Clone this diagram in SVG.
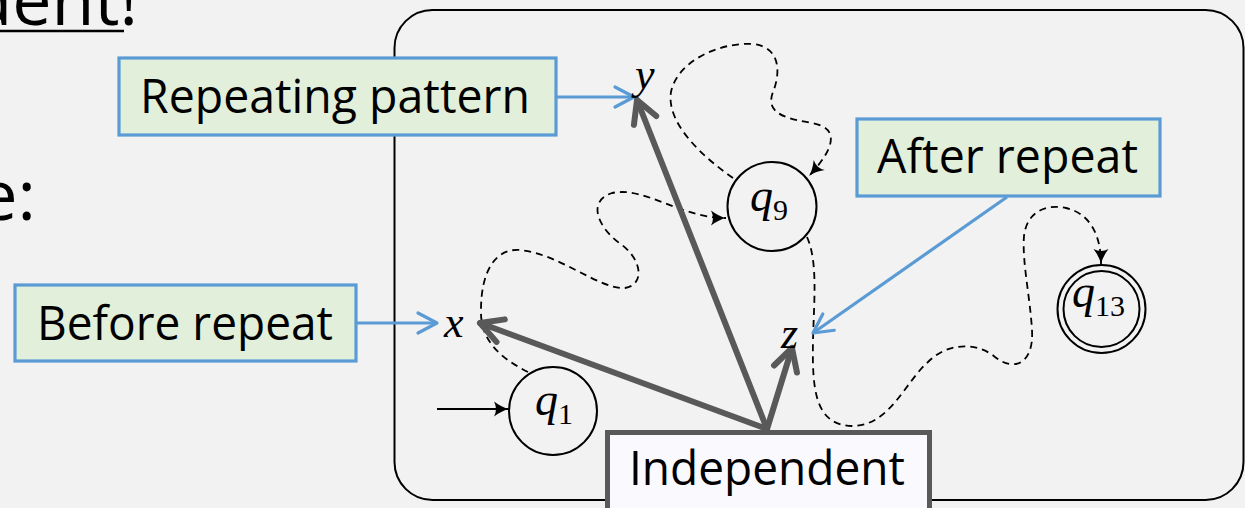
<svg xmlns="http://www.w3.org/2000/svg" width="1245" height="508" viewBox="0 0 1245 508">
  <defs>
    <style>
      .label { font-family: "Open Sans", "Noto Sans", sans-serif; font-size: 47px; fill: #000; }
      .big { font-family: "Open Sans", "Noto Sans", sans-serif; font-size: 70px; fill: #000; }
      .math { font-family: "Liberation Serif", "DejaVu Serif", serif; font-style: italic; fill: #000; }
      .sub { font-style: normal; }
      .note { fill: #e2efda; stroke: #5b9bd5; stroke-width: 3.2; }
      .pointer { fill: none; stroke: #5b9bd5; stroke-width: 3.2; }
      .thick { fill: none; stroke: #595959; stroke-width: 6; stroke-linecap: round; }
      .run { fill: none; stroke: #000; stroke-width: 1.8; stroke-dasharray: 7 5; }
      .state { fill: #f2f2f2; stroke: #000; stroke-width: 2; }
    </style>
    <marker id="blueHead" markerUnits="userSpaceOnUse" markerWidth="30" markerHeight="30" viewBox="-26 -15 30 30" refX="0" refY="0" orient="auto">
      <path d="M -19,-10 L 0,0 L -19,10" fill="none" stroke="#5b9bd5" stroke-width="3.2" stroke-linecap="round" stroke-linejoin="round"/>
    </marker>
    <marker id="grayHead" markerUnits="userSpaceOnUse" markerWidth="40" markerHeight="40" viewBox="-32 -20 40 40" refX="0" refY="0" orient="auto">
      <path d="M -22,-12 L 0,0 L -22,12" fill="none" stroke="#595959" stroke-width="6" stroke-linecap="round" stroke-linejoin="round"/>
    </marker>
    <marker id="smallHead" markerUnits="userSpaceOnUse" markerWidth="20" markerHeight="20" viewBox="-17 -10 20 20" refX="0" refY="0" orient="auto">
      <path d="M -15,-7.5 Q -7,-1.5 0,0 Q -7,1.5 -15,7.5 Q -11,0 -15,-7.5 Z" fill="#000"/>
    </marker>
  </defs>

  <!-- page background -->
  <rect x="0" y="0" width="1245" height="508" fill="#f2f2f2"/>

  <!-- slide text running past the left margin -->
  <g id="slide-text">
    <text class="big" x="138" y="25" text-anchor="end">dent!</text>
    <line x1="0" y1="31" x2="124" y2="31" stroke="#000" stroke-width="2.6"/>
    <text class="big" x="36" y="220" text-anchor="end">e:</text>
  </g>

  <!-- automaton panel -->
  <rect id="panel" x="394.5" y="10" width="849" height="490" rx="38" ry="38" fill="#f2f2f2" stroke="#000" stroke-width="2"/>

  <!-- connectors -->
  <g id="connectors">
    <!-- start arrow -->
    <line x1="437" y1="409" x2="509" y2="409" stroke="#000" stroke-width="1.8" marker-end="url(#smallHead)"/>
    <!-- dashed runs -->
    <path class="run" d="M 528,372 C 500,358 480,340 481,310 C 481,272 495,248 520,250 C 560,254 600,290 625,288 C 645,285 642,260 622,245 C 600,230 585,202 612,193 C 645,186 680,218 726,218" marker-end="url(#smallHead)"/>
    <path class="run" d="M 733,178 C 700,155 666,122 671,92 C 677,62 718,42 753,44 C 782,47 780,75 773,92 C 764,115 790,119 812,123 C 840,128 835,148 809,176" marker-end="url(#smallHead)"/>
    <path class="run" d="M 807,237 C 818,262 814,300 813,340 C 812,390 815,425 852,426 C 890,426 905,382 928,362 C 950,340 980,344 995,357 C 1014,372 1034,364 1032,330 C 1030,296 1022,262 1024,236 C 1027,210 1048,204 1066,208 C 1092,214 1101,238 1101,264" marker-end="url(#smallHead)"/>
    <!-- thick arrows from the Independent box -->
    <line class="thick" x1="767" y1="429" x2="637" y2="100" marker-end="url(#grayHead)"/>
    <line class="thick" x1="767" y1="429" x2="480" y2="323" marker-end="url(#grayHead)"/>
    <line class="thick" x1="767" y1="429" x2="792" y2="348" marker-end="url(#grayHead)"/>
    <!-- callout pointers -->
    <line class="pointer" x1="557" y1="97" x2="634" y2="97" marker-end="url(#blueHead)"/>
    <line class="pointer" x1="357" y1="323" x2="437" y2="323" marker-end="url(#blueHead)"/>
    <line class="pointer" x1="1007" y1="197" x2="813" y2="333" marker-end="url(#blueHead)"/>
  </g>

  <!-- states -->
  <g id="q1">
    <circle class="state" cx="553" cy="411" r="44"/>
    <text class="math" x="535" y="415" font-size="46">q<tspan class="sub" font-size="30" dy="9">1</tspan></text>
  </g>
  <g id="q9">
    <circle class="state" cx="772" cy="206.5" r="44.5"/>
    <text class="math" x="750" y="211" font-size="46">q<tspan class="sub" font-size="30" dy="9">9</tspan></text>
  </g>
  <g id="q13">
    <circle class="state" cx="1101.5" cy="309" r="44"/>
    <circle cx="1101.5" cy="309" r="38" fill="none" stroke="#000" stroke-width="2"/>
    <text class="math" x="1072" y="307" font-size="46">q<tspan class="sub" font-size="30" dy="9">13</tspan></text>
  </g>

  <!-- positions on the run -->
  <g id="pos-x"><text class="math" x="444" y="337" font-size="44">x</text></g>
  <g id="pos-y"><text class="math" x="635" y="89" font-size="44">y</text></g>
  <g id="pos-z"><text class="math" x="781" y="348" font-size="44">z</text></g>

  <!-- callouts -->
  <g id="note-repeating">
    <rect class="note" x="119" y="58" width="437" height="77"/>
    <text class="label" x="140" y="113" textLength="390" lengthAdjust="spacingAndGlyphs">Repeating pattern</text>
  </g>
  <g id="note-before">
    <rect class="note" x="15" y="285" width="341" height="76"/>
    <text class="label" x="37" y="340" textLength="296" lengthAdjust="spacingAndGlyphs">Before repeat</text>
  </g>
  <g id="note-after">
    <rect class="note" x="857" y="119" width="303" height="77"/>
    <text class="label" x="877" y="173" textLength="261" lengthAdjust="spacingAndGlyphs">After repeat</text>
  </g>
  <g id="note-independent">
    <rect x="607.5" y="432.5" width="322" height="90" fill="#f9f9fe" stroke="#595959" stroke-width="5"/>
    <text class="label" x="629" y="485" textLength="276" lengthAdjust="spacingAndGlyphs">Independent</text>
  </g>
</svg>
